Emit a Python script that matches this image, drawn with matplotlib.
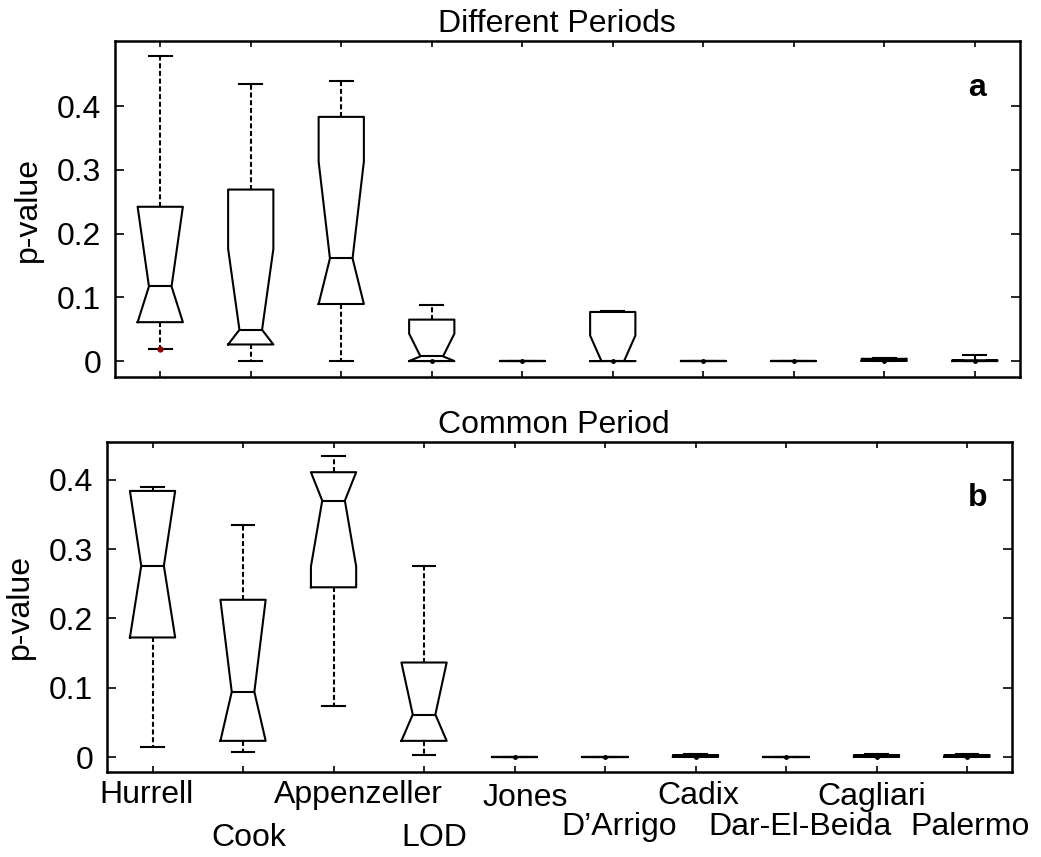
import numpy as np
import matplotlib
matplotlib.use("Agg")
import matplotlib.pyplot as plt

plt.rcParams["font.family"] = ["Liberation Sans", "DejaVu Sans"]
plt.rcParams["font.size"] = 23

# data (p-value box stats per station/index)
names = ["Hurrell", "Cook", "Appenzeller", "LOD", "Jones", "D\u2019Arrigo",
         "Cadix", "Dar-El-Beida", "Cagliari", "Palermo"]

# a) different periods
whislo_a = [0.0195, 0.0, 0.0, 0.0, 0.0, 0.0, 0.0, 0.0, 0.0, 0.0]
q1_a = [0.061, 0.026, 0.0895, 0.0, 0.0, 0.0, 0.0, 0.0, 0.0005, 0.0]
med_a = [0.117, 0.049, 0.161, 0.0074, 0.0, 0.0, 0.0, 0.0, 0.0015, 0.0005]
q3_a = [0.242, 0.269, 0.383, 0.065, 0.0, 0.077, 0.0, 0.0, 0.0035, 0.0012]
whishi_a = [0.479, 0.435, 0.439, 0.0885, 0.0, 0.078, 0.0, 0.0, 0.005, 0.009]
cilo_a = [0.061, 0.026, 0.0895, 0.0, 0.0, 0.0, 0.0, 0.0, 0.0005, 0.0]
cihi_a = [0.242, 0.176, 0.313, 0.043, 0.0, 0.040, 0.0, 0.0, 0.0035, 0.0012]
fliers_a = [[0.0195], [], [], [0.0], [0.0], [0.0], [0.0], [0.0], [0.0], [0.0]]

# b) common period
whislo_b = [0.0153, 0.008, 0.074, 0.0033, 0.0, 0.0, 0.0, 0.0, 0.0, 0.0]
q1_b = [0.1726, 0.0235, 0.245, 0.0235, 0.0, 0.0, 0.0005, 0.0, 0.0005, 0.0005]
med_b = [0.276, 0.0942, 0.370, 0.0615, 0.0, 0.0, 0.0015, 0.0, 0.0015, 0.0015]
q3_b = [0.384, 0.227, 0.411, 0.1365, 0.0, 0.0, 0.003, 0.0, 0.003, 0.003]
whishi_b = [0.390, 0.335, 0.434, 0.276, 0.0, 0.0, 0.004, 0.0, 0.004, 0.004]
cilo_b = [0.1726, 0.0235, 0.275, 0.0235, 0.0, 0.0, 0.0005, 0.0, 0.0005, 0.0005]
cihi_b = [0.384, 0.227, 0.411, 0.1365, 0.0, 0.0, 0.003, 0.0, 0.003, 0.003]
fliers_b = [[], [], [], [], [0.0], [0.0], [0.0], [0.0], [0.0], [0.0]]

yticks = [0, 0.1, 0.2, 0.3, 0.4]
ytick_labels = ["0", "0.1", "0.2", "0.3", "0.4"]

# staggered name labels under panel b (pixel positions in the figure)
label_x = [146, 249, 358, 434, 525, 619, 698, 800, 872, 970]
label_base = [803, 846, 803, 846, 806, 835, 804, 835, 805, 835]

W, H = 1041, 857


def make_stats(whislo, q1, med, q3, whishi, cilo, cihi, fliers):
    stats = []
    for i in range(len(med)):
        stats.append(dict(whislo=whislo[i], q1=q1[i], med=med[i], q3=q3[i],
                          whishi=whishi[i], cilo=cilo[i], cihi=cihi[i],
                          fliers=np.array(fliers[i])))
    return stats


def draw_panel(ax, stats, title, letter, ylim, letter_pos, title_x):
    lw = 1.5
    bp = ax.bxp(stats, positions=np.arange(1, len(stats) + 1), widths=0.5,
                shownotches=True, patch_artist=False,
                boxprops=dict(color="black", linewidth=lw),
                medianprops=dict(color="black", linewidth=lw),
                whiskerprops=dict(color="black", linewidth=lw, linestyle=(0, (2.4, 1.3))),
                capprops=dict(color="black", linewidth=lw),
                flierprops=dict(marker="o", markersize=2.5, markerfacecolor="black",
                                markeredgecolor="black", linestyle="none"))
    # the first outlier in panel a is drawn in dark red
    if letter == "a":
        bp["fliers"][0].set_markerfacecolor("#8b0000")
        bp["fliers"][0].set_markeredgecolor("#8b0000")
        bp["fliers"][0].set_markersize(3.5)

    ax.set_xlim(0.5, 10.5)
    ax.set_ylim(*ylim)
    ax.set_xticks(np.arange(1, 11))
    ax.set_xticklabels([])
    ax.set_yticks(yticks)
    ax.set_yticklabels(ytick_labels)
    ax.tick_params(axis="x", direction="in", length=4.5, width=1.2, top=True, bottom=True)
    ax.tick_params(axis="y", direction="in", length=6.5, width=1.2, left=True, right=True, pad=10)
    for s in ax.spines.values():
        s.set_linewidth(1.8)
    ax.set_title(title, fontsize=23, pad=6.5, x=title_x)
    ax.set_ylabel("p-value", fontsize=23)
    ax.yaxis.set_label_coords(-0.08, 0.5)
    ax.text(letter_pos[0], letter_pos[1], letter, transform=ax.transAxes,
            ha="center", va="center", fontweight="bold", fontsize=23)


fig = plt.figure(figsize=(W / 100, H / 100), dpi=100)
ax1 = fig.add_axes([115 / W, 1 - 377 / H, 905 / W, 336 / H])
ax2 = fig.add_axes([107.3 / W, 1 - 771.7 / H, 905 / W, 330 / H])

draw_panel(ax1, make_stats(whislo_a, q1_a, med_a, q3_a, whishi_a, cilo_a, cihi_a, fliers_a),
           "Different Periods", "a", (-0.025, 0.502), (0.953, 0.859), 0.488)
draw_panel(ax2, make_stats(whislo_b, q1_b, med_b, q3_b, whishi_b, cilo_b, cihi_b, fliers_b),
           "Common Period", "b", (-0.021, 0.455), (0.962, 0.83), 0.493)

for name, x, yb in zip(names, label_x, label_base):
    fig.text(x / W, 1 - yb / H, name, ha="center", va="baseline", fontsize=23)

fig.savefig("out.png", dpi=100)
